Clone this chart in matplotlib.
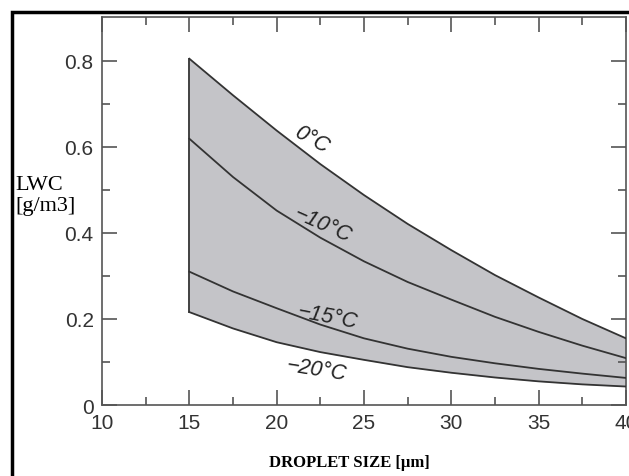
import matplotlib
matplotlib.use('Agg')
import matplotlib.pyplot as plt
import matplotlib.ticker as mticker
from matplotlib.patches import Rectangle

# droplet size (um) and LWC (g/m3)
size = [15, 17.5, 20, 22.5, 25, 27.5, 30, 32.5, 35, 37.5, 40]
lwc_0 = [0.805, 0.720, 0.638, 0.560, 0.488, 0.421, 0.360, 0.302, 0.250, 0.200, 0.155]
lwc_m10 = [0.619, 0.530, 0.452, 0.389, 0.334, 0.286, 0.245, 0.205, 0.170, 0.138, 0.109]
lwc_m15 = [0.310, 0.264, 0.225, 0.187, 0.155, 0.131, 0.112, 0.097, 0.084, 0.073, 0.063]
lwc_m20 = [0.216, 0.178, 0.146, 0.123, 0.105, 0.088, 0.075, 0.064, 0.055, 0.048, 0.043]

curve_labels = ['0°C', '\u221210°C', '\u221215°C', '\u221220°C']
label_xy = [(22.0, 0.619), (22.6, 0.421), (22.9, 0.205), (22.25, 0.084)]
label_rot = [-29, -24, -11, -9]

LINE = '#333333'
FILL = '#c4c4c8'

plt.rcParams.update({
    'font.family': 'Liberation Sans',
    'font.size': 15,
})

fig = plt.figure(figsize=(6.29, 4.77), dpi=100)
ax = fig.add_axes([0.1622, 0.1488, 0.8330, 0.8135])

ax.fill_between(size, lwc_m20, lwc_0, color=FILL, linewidth=0, zorder=1)
for series in [lwc_0, lwc_m10, lwc_m15, lwc_m20]:
    ax.plot(size, series, color=LINE, linewidth=1.3, zorder=3)
ax.plot([size[0], size[0]], [lwc_m20[0], lwc_0[0]], color=LINE, linewidth=1.3, zorder=3)

for txt, (x, y), r in zip(curve_labels, label_xy, label_rot):
    ax.text(x, y, txt, rotation=r, ha='center', va='center', style='italic',
            fontsize=15.5, color='#222222', rotation_mode='anchor', zorder=4)

ax.set_xlim(10, 40)
ax.set_ylim(0, 0.902)
ax.xaxis.set_major_locator(mticker.MultipleLocator(5))
ax.xaxis.set_minor_locator(mticker.MultipleLocator(2.5))
ax.yaxis.set_major_locator(mticker.FixedLocator([0, 0.2, 0.4, 0.6, 0.8]))
ax.yaxis.set_minor_locator(mticker.FixedLocator([0.1, 0.3, 0.5, 0.7]))
ax.yaxis.set_major_formatter(mticker.FuncFormatter(lambda v, p: '0' if v == 0 else f'{v:.1f}'))

for spine in ax.spines.values():
    spine.set_color('#555555')
    spine.set_linewidth(1.2)
ax.tick_params(which='both', direction='in', top=True, right=True,
               color='#555555', width=1.2, labelcolor='#333333', labelsize=15)
ax.tick_params(which='major', length=11, pad=6)
ax.tick_params(which='minor', length=6)

fig.text(0.025, 0.590, 'LWC\n[g/m3]', family='Liberation Serif', fontsize=16,
         ha='left', va='center', linespacing=1.15)
fig.text(0.556, 0.030, 'DROPLET SIZE [\u00b5m]', family='Liberation Serif',
         fontweight='bold', fontsize=12, ha='center', va='center')

frame = Rectangle((12 / 629, -0.05), 1.1, 1 - 13 / 477 + 0.05, transform=fig.transFigure,
                  fill=False, edgecolor='black', linewidth=2.5, clip_on=False)
fig.patches.append(frame)

fig.savefig('out.png', dpi=100)
plt.close(fig)
